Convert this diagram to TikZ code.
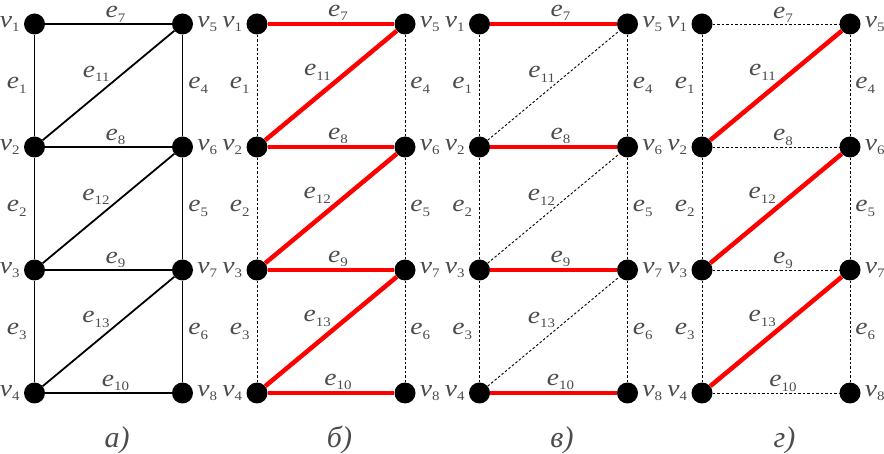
\documentclass[tikz,border=0pt]{standalone}
\usepackage{fontspec}
\setmainfont{Liberation Serif}
\newfontfamily\labfont{Liberation Serif}[FakeStretch=1.15]
\usetikzlibrary{positioning}

\newcommand\subx[1]{\raisebox{-4.5pt}{\fontsize{13}{13}\selectfont\upshape #1}}
\newcommand\vlab[1]{\textit{v}\subx{#1}}
\newcommand\elab[1]{\textit{e}\subx{#1}}

\begin{document}
\begin{tikzpicture}[
  x=1pt, y=-1pt,
  every node/.style={font=\labfont\fontsize{24}{24}\selectfont, text=black!70, inner sep=0pt},
  vtx/.style={circle, fill=black, minimum size=21pt},
  plain/.style={line width=1.8pt},
  hot/.style={line width=4.5pt, red},
  dots/.style={line width=0.9pt, dash pattern=on 2.5pt off 2pt},
  hlab/.style={above=1pt, xshift=7pt},
  dlab/.style={anchor=south east, shift={(2pt,3pt)}},
  every label/.style={label distance=4pt}
]
\useasboundingbox (0,0) rectangle (884,454);

\foreach \p/\x/\hs/\ds/\vs/\capt in {a/0/plain/plain/plain/а), b/222.5/hot/hot/dots/б),
                                     c/445/hot/dots/dots/в), d/667.5/dots/hot/dots/г)} {
  \foreach \r/\y in {1/24,2/147,3/270,4/393} {
    \pgfmathtruncatemacro\rr{\r+4}
    \node[vtx, label={[name=\p v\r]left:\vlab{\r}}]    (\p\r)  at (\x+34.5,\y)  {};
    \node[vtx, label={[name=\p v\rr]right:\vlab{\rr}}] (\p\rr) at (\x+182.5,\y) {};
  }

  %% ladder sides
  \draw[\vs] (\p1) -- node[left=7pt]  (\p e1) {\elab{1}} (\p2);
  \draw[\vs] (\p2) -- node[left=7pt]  (\p e2) {\elab{2}} (\p3);
  \draw[\vs] (\p3) -- node[left=7pt]  (\p e3) {\elab{3}} (\p4);
  \draw[\vs] (\p5) -- node[right=5pt] (\p e4) {\elab{4}} (\p6);
  \draw[\vs] (\p6) -- node[right=5pt] (\p e5) {\elab{5}} (\p7);
  \draw[\vs] (\p7) -- node[right=5pt] (\p e6) {\elab{6}} (\p8);

  %% rungs
  \draw[\hs] (\p1) -- node[hlab] (\p e7)  {\elab{7}}  (\p5);
  \draw[\hs] (\p2) -- node[hlab] (\p e8)  {\elab{8}}  (\p6);
  \draw[\hs] (\p3) -- node[hlab] (\p e9)  {\elab{9}}  (\p7);
  \draw[\hs] (\p4) -- node[hlab] (\p e10) {\elab{10}} (\p8);

  %% diagonals
  \draw[\ds] (\p2) -- node[dlab] (\p e11) {\elab{11}} (\p5);
  \draw[\ds] (\p3) -- node[dlab] (\p e12) {\elab{12}} (\p6);
  \draw[\ds] (\p4) -- node[dlab] (\p e13) {\elab{13}} (\p7);

  \node[font=\fontsize{30}{30}\selectfont] (cap\p) at (\x+117,440) {\textit{\capt}};
}
\end{tikzpicture}
\end{document}
